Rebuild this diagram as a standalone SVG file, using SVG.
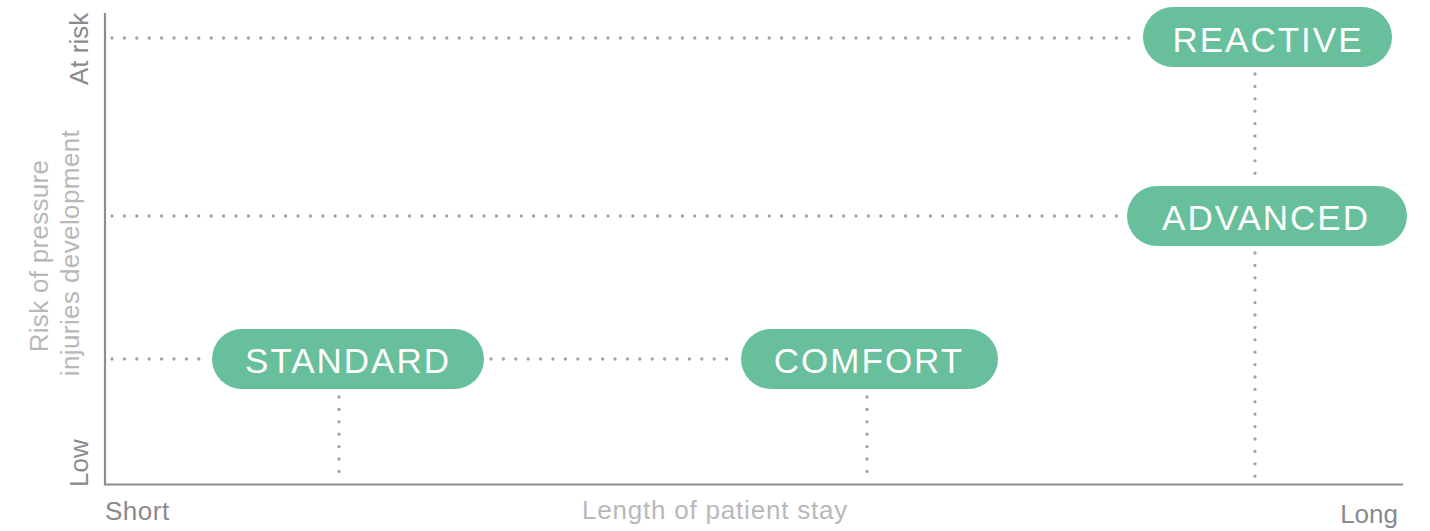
<svg xmlns="http://www.w3.org/2000/svg" width="1430" height="531" viewBox="0 0 1430 531">
<style>
.axis{stroke:#8d8d91;stroke-width:2.2;fill:none}
.dot{stroke:#a2a2a6;stroke-width:3.3;stroke-linecap:round;stroke-dasharray:0 12.4;fill:none}
.pill{fill:#67bf9b}
.pt{font-family:"Liberation Sans",Arial,sans-serif;font-size:35px;fill:#ffffff;text-anchor:middle;letter-spacing:2px}
.lab{font-family:"Liberation Sans",Arial,sans-serif;font-size:26px;fill:#8a8a8e}
.lab2{font-family:"Liberation Sans",Arial,sans-serif;font-size:26px;fill:#b8b8bb;text-anchor:middle}
</style>
<rect width="1430" height="531" fill="#ffffff"/>
<g id="connectors">
<path class="dot" d="M112 38 H1137"/>
<path class="dot" d="M112 216 H1122"/>
<path class="dot" d="M112 359 H205"/>
<path class="dot" d="M491 359 H736"/>
<path class="dot" d="M1255 74 V184"/>
<path class="dot" d="M1255 253 V482"/>
<path class="dot" d="M339 397 V482"/>
<path class="dot" d="M867 397 V482"/>
</g>
<g id="axes">
<path class="axis" d="M105 13 V484.5 H1403"/>
<text class="lab" x="105" y="520" letter-spacing="0.5">Short</text>
<text class="lab" x="1398" y="523" text-anchor="end">Long</text>
<text class="lab2" x="715" y="519" letter-spacing="0.8">Length of patient stay</text>
<text class="lab" transform="translate(88,85) rotate(-90)">At risk</text>
<text class="lab" transform="translate(88,487) rotate(-90)">Low</text>
<text class="lab2" transform="translate(48,256) rotate(-90)" letter-spacing="0.3">Risk of pressure</text>
<text class="lab2" transform="translate(79,253) rotate(-90)" letter-spacing="0.4">injuries development</text>
</g>
<g id="node-reactive">
<rect class="pill" x="1143" y="7" width="249" height="60" rx="30"/>
<text class="pt" x="1268" y="51.5" letter-spacing="1.6">REACTIVE</text>
</g>
<g id="node-advanced">
<rect class="pill" x="1127" y="186" width="280" height="60" rx="30"/>
<text class="pt" x="1266" y="230">ADVANCED</text>
</g>
<g id="node-standard">
<rect class="pill" x="212" y="329" width="272" height="60" rx="30"/>
<text class="pt" x="348" y="373">STANDARD</text>
</g>
<g id="node-comfort">
<rect class="pill" x="741" y="329" width="257" height="60" rx="30"/>
<text class="pt" x="869" y="373">COMFORT</text>
</g>
</svg>
